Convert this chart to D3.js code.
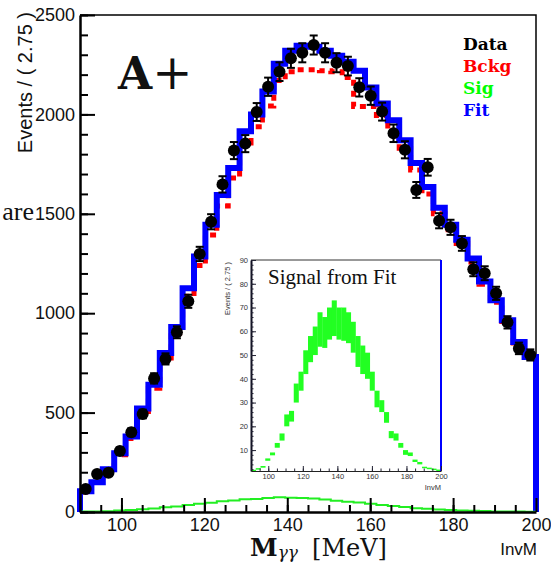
<!DOCTYPE html>
<html>
<head>
<meta charset="utf-8">
<script src="https://cdn.jsdelivr.net/npm/d3@7"></script>
<style>
  body { margin: 0; background: #fff; }
  svg { display: block; }
</style>
</head>
<body>
<svg width="551" height="562"></svg>
<script>
// histogram binning: 40 bins of 2.75 MeV between 90 and 200
const xLow = 90, xHigh = 200, binW = 2.75;

// data points (events per bin) and their error bars
const dataCounts = [116, 191, 198, 307, 401, 493, 672, 770, 904, 1060,
    1298, 1460, 1648, 1818, 1853, 2012, 2139, 2215, 2282, 2310,
    2349, 2310, 2260, 2243, 2136, 2094, 2014, 1905, 1822, 1620,
    1734, 1465, 1432, 1351, 1221, 1201, 1100, 954, 823, 790];
const dataErrors = [11, 14, 14, 18, 20, 22, 26, 28, 30, 33,
    36, 38, 41, 43, 43, 45, 46, 47, 48, 48,
    48, 48, 48, 47, 46, 46, 45, 44, 43, 40,
    42, 38, 38, 37, 35, 35, 33, 31, 29, 28];

// fit (blue) and background (red) histograms
const fitCounts = [105, 150, 215, 295, 380, 520, 640, 800, 930, 1125,
    1285, 1445, 1595, 1730, 1915, 2000, 2115, 2255, 2320, 2345,
    2340, 2320, 2295, 2265, 2220, 2135, 2055, 1970, 1870, 1755,
    1635, 1530, 1445, 1370, 1275, 1160, 1065, 965, 855, 780];
const bckgCounts = [100, 148, 210, 288, 370, 505, 622, 775, 900, 1085,
    1240, 1393, 1539, 1680, 1856, 1938, 2042, 2170, 2215, 2225,
    2225, 2220, 2215, 2185, 2040, 2040, 1995, 1915, 1830, 1720,
    1600, 1500, 1420, 1350, 1258, 1145, 1055, 958, 850, 777];

// signal curve drawn in the main frame
const sigCounts = [2, 3, 4, 7, 10, 14, 18, 24, 28, 35,
    41, 47, 54, 58, 64, 66, 70, 74, 72, 70,
    68, 63, 57, 52, 48, 42, 35, 30, 25, 19,
    16, 13, 10, 8, 6, 5, 3, 2.5, 2, 1.6];

// inset "Signal from Fit": low / high edge of each green box
const sigInsetLow = [1.2, 1.8, 2.6, 5.5, 7.8, 11, 14, 20, 22, 30,
    35, 42, 47, 50, 53.5, 53, 56.5, 58, 56.5, 56,
    55, 51, 45, 42, 40, 35, 28, 26, 21.5, 15,
    14, 11, 8, 7.5, 5, 4, 2.5, 2, 1.6, 1.3];
const sigInsetHigh = [1.7, 2.4, 3.3, 6.5, 9, 13, 17, 25, 26.5, 38,
    43, 52, 58, 62, 68, 66, 70, 73, 70, 70,
    68, 64, 58, 54, 51, 43, 35, 31, 26, 18,
    17, 13, 10, 9, 6, 5, 3, 2.6, 2.2, 1.8];

const yTicks = [0, 500, 1000, 1500, 2000, 2500];
const xTicks = [100, 120, 140, 160, 180, 200];
const insetYTicks = [10, 20, 30, 40, 50, 60, 70, 80, 90];
const legendLabels = ["Data", "Bckg", "Sig", "Fit"];
const legendColors = ["#000000", "#ff0000", "#00ff00", "#0000ff"];

const svg = d3.select("svg");
const sans = "'Liberation Sans', Arial, sans-serif";
const serif = "'DejaVu Serif', serif";
const times = "'Liberation Serif', 'Times New Roman', serif";
const intFmt = d3.format("d");

const bins = dataCounts.map((d, i) => ({
    i: i,
    x0: xLow + i * binW,
    x1: xLow + (i + 1) * binW,
    xc: xLow + (i + 0.5) * binW,
    data: d,
    err: dataErrors[i],
    fit: fitCounts[i],
    bckg: bckgCounts[i],
    sig: sigCounts[i],
    lo: sigInsetLow[i],
    hi: sigInsetHigh[i]
}));

// ---------- main frame ----------
const x = d3.scaleLinear().domain([xLow, xHigh]).range([80, 536]);
const y = d3.scaleLinear().domain([0, 2500]).range([512, 15]);

// step outline of a histogram
function stepPoints(key) {
    let pts = [[xLow, 0]];
    bins.forEach(b => { pts.push([b.x0, b[key]]); pts.push([b.x1, b[key]]); });
    pts.push([xHigh, 0]);
    return pts;
}
const stepLine = d3.line().x(d => x(d[0])).y(d => y(d[1]));

// frame top and right
svg.append("path")
    .attr("d", `M${x(xLow)},${y(2500)}H${x(xHigh)}V${y(0)}`)
    .attr("fill", "none")
    .attr("stroke", "#000")
    .attr("stroke-width", 1.5);

// background (red, dashed)
svg.append("path")
    .attr("d", stepLine(stepPoints("bckg")))
    .attr("fill", "none")
    .attr("stroke", "#ff0000")
    .attr("stroke-width", 5)
    .attr("stroke-dasharray", "6,5");

// fit (blue)
svg.append("path")
    .attr("d", stepLine(stepPoints("fit")))
    .attr("fill", "none")
    .attr("stroke", "#0000ff")
    .attr("stroke-width", 6);

// signal (green, thin)
svg.append("path")
    .attr("d", stepLine(stepPoints("sig").slice(1, -1)))
    .attr("fill", "none")
    .attr("stroke", "#22ee22")
    .attr("stroke-width", 2);

// data error bars
const eb = svg.append("g").attr("stroke", "#000").attr("stroke-width", 2);
bins.forEach(b => {
    eb.append("line")
        .attr("x1", x(b.xc)).attr("x2", x(b.xc))
        .attr("y1", y(b.data - b.err)).attr("y2", y(b.data + b.err));
    [b.data - b.err, b.data + b.err].forEach(v => {
        eb.append("line")
            .attr("x1", x(b.xc) - 4).attr("x2", x(b.xc) + 4)
            .attr("y1", y(v)).attr("y2", y(v));
    });
});

// data points
svg.append("g").selectAll("circle")
    .data(bins)
    .enter()
    .append("circle")
    .attr("cx", d => x(d.xc))
    .attr("cy", d => y(d.data))
    .attr("r", 6)
    .attr("fill", "#000");

// axes
const yAxis = svg.append("g")
    .attr("transform", `translate(${x(xLow)},0)`)
    .call(d3.axisLeft(y).tickValues(yTicks).tickFormat(intFmt)
        .tickSize(-15).tickSizeOuter(0).tickPadding(5));
svg.append("g")
    .attr("transform", `translate(${x(xLow)},0)`)
    .call(d3.axisLeft(y).tickValues(d3.range(0, 2501, 100)).tickSize(-8).tickFormat(""))
    .call(g => g.select(".domain").remove());

const xAxis = svg.append("g")
    .attr("transform", `translate(0,${y(0)})`)
    .call(d3.axisBottom(x).tickValues(xTicks).tickFormat(intFmt)
        .tickSize(-14).tickSizeOuter(0).tickPadding(6));
svg.append("g")
    .attr("transform", `translate(0,${y(0)})`)
    .call(d3.axisBottom(x).tickValues(d3.range(95, 200, 5)).tickSize(-7).tickFormat(""))
    .call(g => g.select(".domain").remove());

svg.selectAll(".domain").attr("stroke-width", 2.5);
svg.selectAll(".tick line").attr("stroke-width", 2);
[yAxis, xAxis].forEach(a => a.selectAll("text")
    .style("font-family", sans).style("font-size", "18px").attr("fill", "#111"));

// axis titles
svg.append("text")
    .attr("transform", "translate(32,12) rotate(-90)")
    .attr("text-anchor", "end")
    .style("font-family", sans)
    .style("font-size", "20px")
    .attr("fill", "#111")
    .text("Events / ( 2.75 )");

const xt = svg.append("text")
    .attr("x", 250).attr("y", 556)
    .style("font-family", serif)
    .attr("fill", "#111");
xt.append("tspan").style("font-size", "25px").style("font-weight", "bold").text("M");
xt.append("tspan").attr("dy", 2).style("font-size", "17px").style("font-style", "italic").text("γγ");
xt.append("tspan").attr("dy", -2).attr("dx", 14).style("font-size", "24px").text("[MeV]");

svg.append("text")
    .attr("x", 537).attr("y", 555)
    .attr("text-anchor", "end")
    .style("font-family", sans)
    .style("font-size", "17px")
    .attr("fill", "#111")
    .text("InvM");

// "A+" tag
const tag = svg.append("text")
    .attr("x", 118).attr("y", 89)
    .style("font-family", serif)
    .attr("fill", "#111");
tag.append("tspan").style("font-size", "44px").style("font-weight", "bold").text("A");
tag.append("tspan").style("font-size", "48px").style("font-weight", "200").text("+");

// stray word from the page this figure was cut out of
svg.append("text")
    .attr("x", 34).attr("y", 220)
    .attr("text-anchor", "end")
    .style("font-family", times)
    .style("font-size", "26px")
    .attr("fill", "#111")
    .text("are");

// legend
svg.append("g").selectAll("text")
    .data(legendLabels)
    .enter()
    .append("text")
    .attr("x", 463)
    .attr("y", (d, i) => 50 + i * 22)
    .style("font-family", serif)
    .style("font-size", "17px")
    .style("font-weight", "bold")
    .attr("fill", (d, i) => legendColors[i])
    .text(d => d);

// ---------- inset: signal from fit ----------
const xi = d3.scaleLinear().domain([xLow, xHigh]).range([251, 441]);
const yi = d3.scaleLinear().domain([1.2, 90]).range([471, 260]);

const inset = svg.append("g");
inset.append("rect")
    .attr("x", 216).attr("y", 252)
    .attr("width", 234).attr("height", 241)
    .attr("fill", "#fff");

inset.append("g").selectAll("rect")
    .data(bins)
    .enter()
    .append("rect")
    .attr("x", d => xi(d.x0))
    .attr("width", d => xi(d.x1) - xi(d.x0) + 0.3)
    .attr("y", d => yi(d.hi))
    .attr("height", d => Math.max(1.5, yi(d.lo) - yi(d.hi)))
    .attr("fill", "#22ff22");

inset.append("line")
    .attr("x1", xi(xLow)).attr("x2", xi(xHigh))
    .attr("y1", yi(90)).attr("y2", yi(90))
    .attr("stroke", "#333").attr("stroke-width", 1);
inset.append("line")
    .attr("x1", xi(xHigh)).attr("x2", xi(xHigh))
    .attr("y1", yi(90)).attr("y2", yi(1.2))
    .attr("stroke", "#0000ff").attr("stroke-width", 2);

const iy = inset.append("g")
    .attr("transform", `translate(${xi(xLow)},0)`)
    .call(d3.axisLeft(yi).tickValues(insetYTicks).tickSize(-5).tickSizeOuter(0).tickPadding(3));
inset.append("g")
    .attr("transform", `translate(${xi(xLow)},0)`)
    .call(d3.axisLeft(yi).tickValues(d3.range(2, 91, 2)).tickSize(-2.5).tickFormat(""))
    .call(g => g.select(".domain").remove());
const ix = inset.append("g")
    .attr("transform", `translate(0,${yi(1.2)})`)
    .call(d3.axisBottom(xi).tickValues(xTicks).tickSize(-5).tickSizeOuter(0).tickPadding(3));
inset.append("g")
    .attr("transform", `translate(0,${yi(1.2)})`)
    .call(d3.axisBottom(xi).tickValues(d3.range(95, 200, 5)).tickSize(-2.5).tickFormat(""))
    .call(g => g.select(".domain").remove());
iy.select(".domain").attr("stroke", "#112").attr("stroke-width", 2);
ix.select(".domain").attr("stroke", "#222").attr("stroke-width", 1.2);
inset.selectAll(".tick line").attr("stroke", "#223").attr("stroke-width", 1);
[iy, ix].forEach(a => a.selectAll("text")
    .style("font-family", sans).style("font-size", "7.5px").attr("fill", "#333"));

inset.append("text")
    .attr("transform", "translate(230,262) rotate(-90)")
    .attr("text-anchor", "end")
    .style("font-family", sans)
    .style("font-size", "7.5px")
    .attr("fill", "#333")
    .text("Events / ( 2.75 )");
inset.append("text")
    .attr("x", 441).attr("y", 490)
    .attr("text-anchor", "end")
    .style("font-family", sans)
    .style("font-size", "7.5px")
    .attr("fill", "#333")
    .text("InvM");
inset.append("text")
    .attr("x", 268).attr("y", 284)
    .style("font-family", times)
    .style("font-size", "21px")
    .attr("fill", "#111")
    .text("Signal from Fit");
</script>
</body>
</html>
